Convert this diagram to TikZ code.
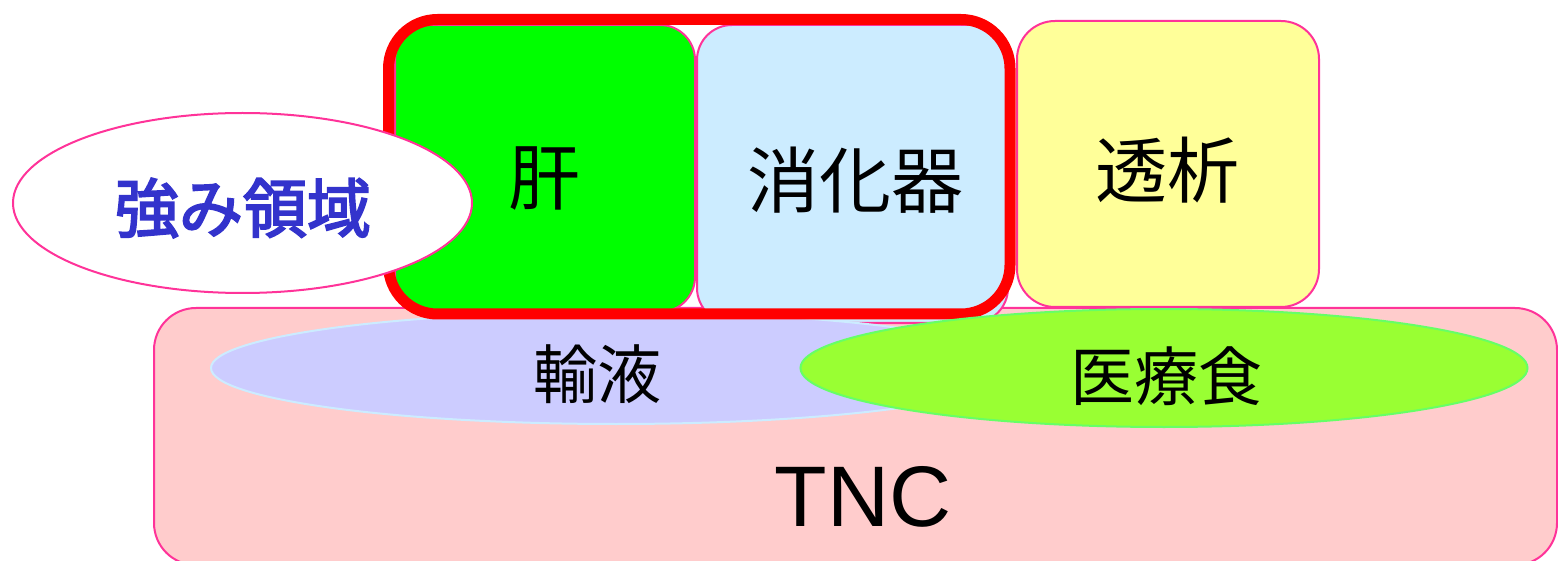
\documentclass[tikz,border=0pt]{standalone}
\usepackage{fontspec}
\setmainfont{Liberation Sans}
\newfontfamily\jp{Noto Sans CJK JP}
\newfontfamily\jpfb[FakeBold=3]{Noto Sans CJK JP}
\usetikzlibrary{shapes.geometric}
\definecolor{bordpink}{HTML}{FF3399}
\definecolor{tncfill}{HTML}{FFCCCC}
\definecolor{liverfill}{HTML}{00FF00}
\definecolor{digfill}{HTML}{CCECFF}
\definecolor{dialfill}{HTML}{FFFF99}
\definecolor{infusfill}{HTML}{CCCCFF}
\definecolor{infusbord}{HTML}{CCECFF}
\definecolor{foodfill}{HTML}{99FF33}
\definecolor{foodbord}{HTML}{66FF66}
\definecolor{strongtext}{HTML}{3333CC}
\definecolor{framered}{HTML}{FF0000}
\tikzset{
  boxshape/.style={rectangle, draw=bordpink, line width=1pt, inner sep=0pt},
  ellshape/.style={ellipse, line width=1pt, inner sep=0pt},
  toplabel/.style={font=\jp\fontsize{36}{40}\selectfont, inner sep=0pt},
  midlabel/.style={font=\jp\fontsize{32}{36}\selectfont, inner sep=0pt},
}
\begin{document}
\begin{tikzpicture}[x=0.5pt,y=-0.5pt]
\useasboundingbox (0,0) rectangle (1558,561);
% TNC base
\node[boxshape, fill=tncfill, rounded corners=21pt, minimum width=701.5pt, minimum height=128.5pt] (tnc) at (855.5,436.5) {};
% top boxes
\node[boxshape, fill=liverfill, rounded corners=17.5pt, minimum width=150pt, minimum height=143.5pt] (liver) at (545,168.5) {};
\node[boxshape, fill=digfill, rounded corners=17.5pt, minimum width=155.5pt, minimum height=149pt] (dig) at (852.5,174) {};
\node[boxshape, fill=dialfill, rounded corners=19pt, minimum width=151pt, minimum height=143pt] (dial) at (1168,164) {};
% infusion ellipse
\node[ellshape, draw=infusbord, fill=infusfill, minimum width=405pt, minimum height=56pt] (infus) at (616,368) {};
% red frame
\node[rectangle, draw=framered, line width=5.5pt, rounded corners=24.5pt, inner sep=0pt, minimum width=310.75pt, minimum height=147.25pt] (frame) at (699.25,166.75) {};
% medical food ellipse
\node[ellshape, draw=foodbord, fill=foodfill, minimum width=363.5pt, minimum height=59pt] (food) at (1164,368) {};
% strength ellipse
\node[ellshape, draw=bordpink, fill=white, minimum width=229.5pt, minimum height=90pt] (strong) at (242.5,203) {};
% labels
\node[toplabel] (tliver) at (544,179) {肝};
\node[toplabel] (tdig) at (855,180) {消化器};
\node[toplabel] (tdial) at (1167,170) {透析};
\node[midlabel] (tinfus) at (597,374) {輸液};
\node[midlabel] (tfood) at (1166,376) {医療食};
\node[midlabel, text=strongtext, font=\jpfb\fontsize{32}{36}\selectfont] (tstrong) at (243,208) {強み領域};
\node[font=\fontsize{43}{48}\selectfont, inner sep=0pt] (ttnc) at (863,497) {TNC};
\end{tikzpicture}
\end{document}
